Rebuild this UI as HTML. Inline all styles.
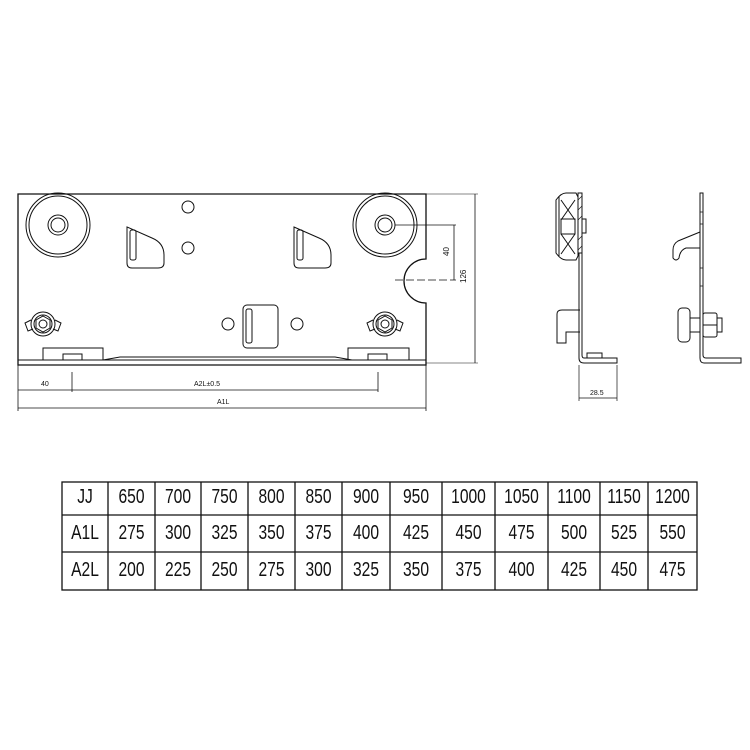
<!DOCTYPE html>
<html><head><meta charset="utf-8"><style>
body{margin:0;background:#fff;width:750px;height:750px;overflow:hidden}
svg{position:absolute;left:0;top:0}
text{font-family:"Liberation Sans",sans-serif;fill:#111}
</style></head><body>
<svg width="750" height="750" viewBox="0 0 750 750" fill="none" stroke="#111" stroke-width="1">
<!-- main plate -->
<path d="M18,194 H426 V259 A22,22 0 0 0 426,303 V365 H18 Z" stroke-width="1.3"/>
<line x1="18" y1="360" x2="426" y2="360"/>
<path d="M103,360 L120,357 H335 L352,360"/>
<!-- wheels -->
<g>
<circle cx="58" cy="225" r="32"/><circle cx="58" cy="225" r="29"/>
<circle cx="58" cy="225" r="10"/><circle cx="58" cy="225" r="7"/>
<circle cx="385" cy="225" r="32"/><circle cx="385" cy="225" r="29"/>
<circle cx="385" cy="225" r="10"/><circle cx="385" cy="225" r="7"/>
</g>
<!-- holes -->
<circle cx="188" cy="207" r="6"/><circle cx="188" cy="248" r="6"/>
<circle cx="228" cy="324" r="6"/><circle cx="297" cy="324" r="6"/>
<!-- hooks -->
<path d="M127,227 L152,238 Q164,243 164,255 L164,263 Q164,268 158,268 L132,268 Q127,268 127,263 Z"/>
<rect x="130" y="230" width="6" height="30" rx="2"/>
<path d="M294,227 L319,238 Q331,243 331,255 L331,263 Q331,268 325,268 L299,268 Q294,268 294,263 Z"/>
<rect x="297" y="230" width="6" height="30" rx="2"/>
<!-- center slot -->
<rect x="243" y="305" width="35" height="43" rx="4"/>
<rect x="246" y="309" width="6" height="34" rx="2"/>
<!-- nuts -->
<g>
<circle cx="43" cy="324" r="12"/><circle cx="43" cy="324" r="9"/>
<polygon points="43,316 50,320 50,328 43,332 36,328 36,320"/><circle cx="43" cy="324" r="4"/>
<path d="M31,320 L25,323 L28,331 L33,329 M55,320 L61,323 L58,331 L53,329"/>
<circle cx="385" cy="324" r="12"/><circle cx="385" cy="324" r="9"/>
<polygon points="385,316 392,320 392,328 385,332 378,328 378,320"/><circle cx="385" cy="324" r="4"/>
<path d="M373,320 L367,323 L370,331 L375,329 M397,320 L403,323 L400,331 L395,329"/>
</g>
<!-- bottom blocks -->
<rect x="43" y="348" width="60" height="12"/><rect x="63" y="354" width="19" height="6"/>
<rect x="348" y="348" width="61" height="12"/><rect x="368" y="354" width="19" height="6"/>
<!-- right dims -->
<line x1="426" y1="194" x2="478" y2="194" stroke-width="0.6"/>
<line x1="426" y1="363" x2="478" y2="363" stroke-width="0.6"/>
<line x1="475" y1="194" x2="475" y2="363" stroke-width="0.8"/>
<line x1="395" y1="225" x2="456" y2="225" stroke-width="0.8"/>
<line x1="454" y1="225" x2="454" y2="280" stroke-width="0.8"/>
<line x1="395" y1="280" x2="456" y2="280" stroke-width="0.8" stroke-dasharray="8,3"/>
<text x="0" y="0" font-size="8" transform="translate(466,283) rotate(-90)" stroke="none">126</text>
<text x="0" y="0" font-size="8" transform="translate(449,256) rotate(-90)" stroke="none">40</text>
<!-- bottom dims -->
<line x1="18" y1="365" x2="18" y2="411" stroke-width="0.8"/>
<line x1="426" y1="365" x2="426" y2="411" stroke-width="0.8"/>
<line x1="72" y1="372" x2="72" y2="392" stroke-width="0.8"/>
<line x1="378" y1="372" x2="378" y2="392" stroke-width="0.8"/>
<line x1="18" y1="390" x2="378" y2="390" stroke-width="0.8"/>
<line x1="18" y1="408" x2="426" y2="408" stroke-width="0.8"/>
<text x="41" y="386" font-size="7" stroke="none">40</text>
<text x="194" y="386" font-size="7" stroke="none">A2L±0.5</text>
<text x="217" y="404" font-size="7" stroke="none">A1L</text>
<!-- side view 1 -->
<path d="M556,200 Q561,193 566,193 L576,193 L578,197 V256 L576,260 H566 Q561,260 556,253 Z"/>
<line x1="559" y1="197" x2="559" y2="256"/>
<path d="M561,200 L575,220 M575,200 L561,220 M561,234 L575,254 M575,234 L561,254"/>
<rect x="561" y="219" width="14" height="15"/>
<rect x="578" y="193" width="4" height="60" fill="#fff"/>
<path d="M578,200 L582,196 M578,210 L582,206 M578,220 L582,216 M578,240 L582,236 M578,250 L582,246" stroke-width="0.6"/>
<rect x="582" y="219" width="4" height="14"/>
<path d="M579,253 V358 Q579,363 584,363 H617 V358 H584 Q582,358 582,355 V253"/>
<path d="M580,310 H562 Q557,310 557,314 V343 H566 V332 H580"/>
<rect x="587" y="353" width="15" height="5"/>
<line x1="579" y1="365" x2="579" y2="401" stroke-width="0.7"/>
<line x1="617" y1="365" x2="617" y2="401" stroke-width="0.7"/>
<line x1="579" y1="398" x2="617" y2="398" stroke-width="0.7"/>
<text x="590" y="395" font-size="7" stroke="none">28.5</text>
<!-- side view 2 -->
<path d="M700,193 H703 V355 Q703,358 706,358 H741 V363 H704 Q700,363 700,358 Z"/>
<path d="M700,212 H703 M700,224 H703 M700,268 H703 M700,286 H703" stroke-width="0.8"/>
<path d="M700,232 L678,241 Q673,244 673,250 V258 Q676,262 679,258 Q680,250 686,248 L700,248"/>
<rect x="678" y="308" width="12" height="34" rx="4"/>
<rect x="690" y="318" width="10" height="14"/>
<rect x="703" y="313" width="14" height="24" rx="2"/>
<rect x="717" y="318" width="5" height="14"/>
<line x1="703" y1="325" x2="717" y2="325"/>
<!-- table -->
<g stroke-width="1.3">
<rect x="62" y="482" width="635" height="108"/>
<line x1="62" y1="515" x2="697" y2="515"/>
<line x1="62" y1="552" x2="697" y2="552"/>
<line x1="108" y1="482" x2="108" y2="590"/><line x1="155" y1="482" x2="155" y2="590"/>
<line x1="201" y1="482" x2="201" y2="590"/><line x1="248" y1="482" x2="248" y2="590"/>
<line x1="295" y1="482" x2="295" y2="590"/><line x1="342" y1="482" x2="342" y2="590"/>
<line x1="390" y1="482" x2="390" y2="590"/><line x1="442" y1="482" x2="442" y2="590"/>
<line x1="495" y1="482" x2="495" y2="590"/><line x1="548" y1="482" x2="548" y2="590"/>
<line x1="600" y1="482" x2="600" y2="590"/><line x1="648" y1="482" x2="648" y2="590"/>
</g>
</svg>
<div style="position:absolute;left:0;top:0;width:750px;font-family:'Liberation Sans',sans-serif;font-size:20px;color:#111">
<style>.r span{position:absolute;display:block;text-align:center;transform:scaleX(0.78)}</style>
<div class="r" style="position:absolute;top:486px">
<span style="left:62px;width:46px">JJ</span><span style="left:108px;width:47px">650</span><span style="left:155px;width:46px">700</span><span style="left:201px;width:47px">750</span><span style="left:248px;width:47px">800</span><span style="left:295px;width:47px">850</span><span style="left:342px;width:48px">900</span><span style="left:390px;width:52px">950</span><span style="left:442px;width:53px">1000</span><span style="left:495px;width:53px">1050</span><span style="left:548px;width:52px">1100</span><span style="left:600px;width:48px">1150</span><span style="left:648px;width:49px">1200</span>
</div>
<div class="r" style="position:absolute;top:522px">
<span style="left:62px;width:46px">A1L</span><span style="left:108px;width:47px">275</span><span style="left:155px;width:46px">300</span><span style="left:201px;width:47px">325</span><span style="left:248px;width:47px">350</span><span style="left:295px;width:47px">375</span><span style="left:342px;width:48px">400</span><span style="left:390px;width:52px">425</span><span style="left:442px;width:53px">450</span><span style="left:495px;width:53px">475</span><span style="left:548px;width:52px">500</span><span style="left:600px;width:48px">525</span><span style="left:648px;width:49px">550</span>
</div>
<div class="r" style="position:absolute;top:559px">
<span style="left:62px;width:46px">A2L</span><span style="left:108px;width:47px">200</span><span style="left:155px;width:46px">225</span><span style="left:201px;width:47px">250</span><span style="left:248px;width:47px">275</span><span style="left:295px;width:47px">300</span><span style="left:342px;width:48px">325</span><span style="left:390px;width:52px">350</span><span style="left:442px;width:53px">375</span><span style="left:495px;width:53px">400</span><span style="left:548px;width:52px">425</span><span style="left:600px;width:48px">450</span><span style="left:648px;width:49px">475</span>
</div>
</div>
</body></html>
